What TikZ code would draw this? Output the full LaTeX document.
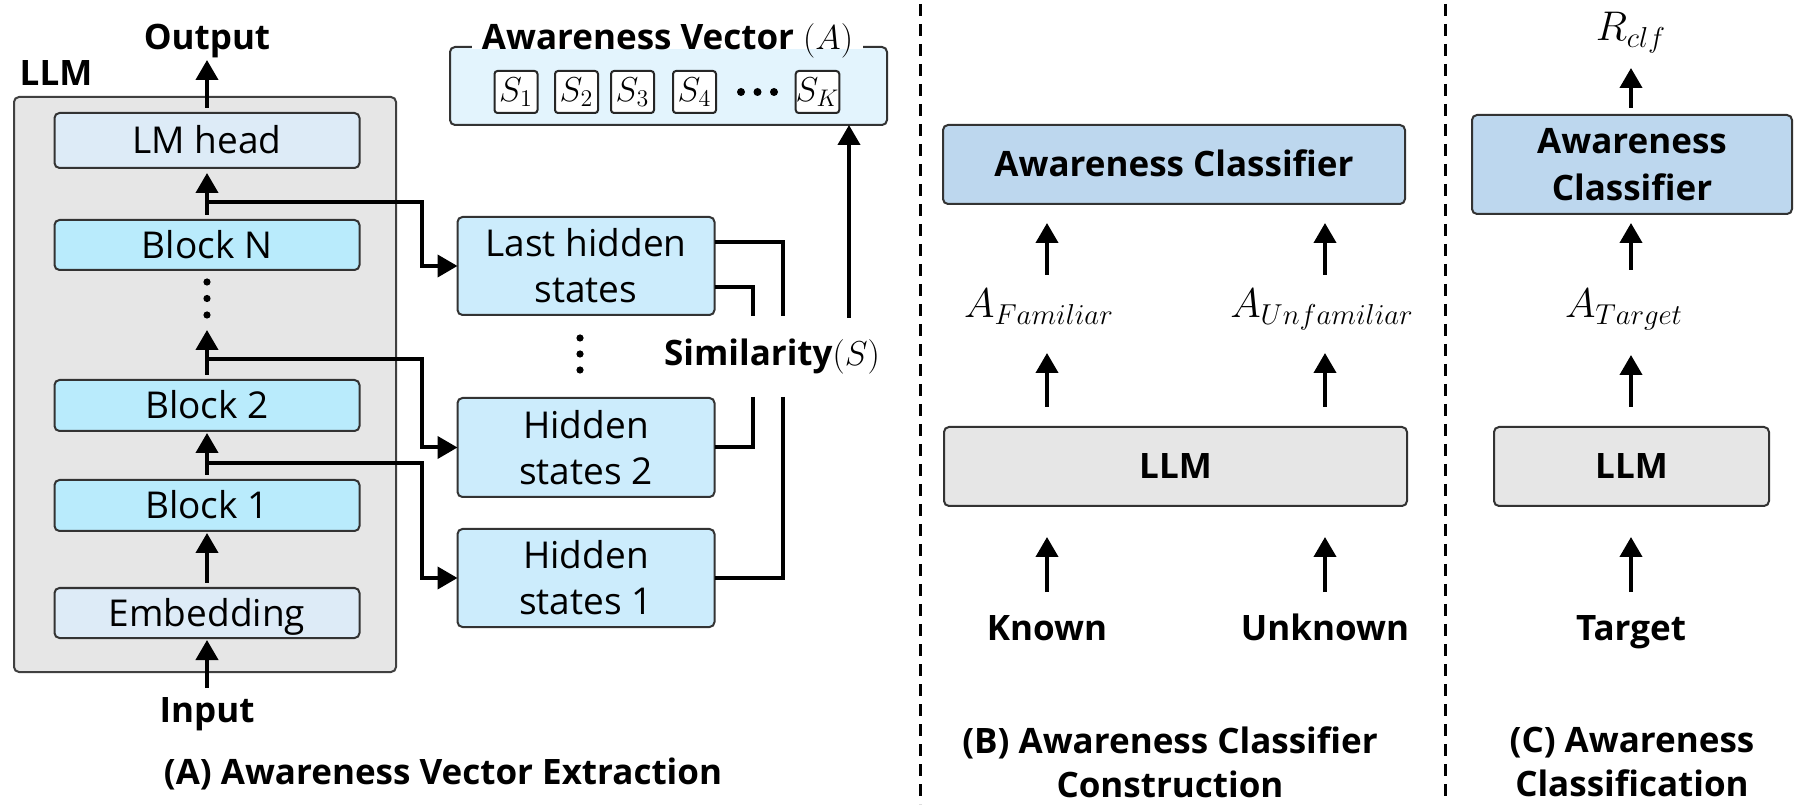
\documentclass[tikz,border=0pt]{standalone}
\usepackage[no-math]{fontspec}
\setmainfont{Open Sans}
\usetikzlibrary{arrows.meta,calc}
\definecolor{llmgray}{HTML}{E6E6E6}
\definecolor{headblue}{HTML}{DDEBF7}
\definecolor{blockcyan}{HTML}{B9EBFC}
\definecolor{hidblue}{HTML}{CCECFC}
\definecolor{avblue}{HTML}{E3F4FD}
\definecolor{clsblue}{HTML}{BDD7EE}
\tikzset{
  every node/.style={inner sep=0pt, outer sep=0pt},
  rtxt/.style={font=\fontsize{18.5}{23}\selectfont},
  btxt/.style={font=\bfseries\fontsize{17.5}{22}\selectfont},
  mtxt/.style={font=\fontsize{20}{22}\selectfont, text height=13pt, text depth=5pt},
  lbl/.style={btxt, text height=12.5pt, text depth=0pt},
  box/.style={draw=black!80, line width=1pt, rounded corners=2.5pt},
  onebox/.style={box, rtxt, text height=13.2pt, text depth=0pt, minimum width=152.5pt},
  mbox/.style={box, rtxt, align=center, minimum width=128.5pt, fill=hidblue},
  arr/.style={line width=2pt, -{Triangle[width=11pt,length=10pt]}},
  conn/.style={line width=2pt},
  sbox/.style={draw=black!85, line width=1pt, fill=white, rounded corners=1.5pt, minimum width=21.5pt, minimum height=21pt, font=\fontsize{17.5}{19}\selectfont},
  dot/.style={circle, fill=black, minimum size=3.6pt},
  sep/.style={line width=1.5pt, dash pattern=on 6pt off 4pt},
}
\begin{document}
\begin{tikzpicture}[x=0.5pt,y=-0.5pt]
\fill[white] (0,0) rectangle (1800,812);
\useasboundingbox (0,0) rectangle (1800,812);

% ---------- Part A ----------
\node[box, draw=black!75, fill=llmgray, minimum width=191pt, minimum height=287.5pt] (llm) at (205,384.5) {};
\node[lbl] (llmlbl) at (56,73.5) {LLM};
\node[lbl] (output) at (207,37.5) {Output};
\node[onebox, fill=headblue, minimum height=27.5pt] (lmhead) at (207,140.5) {LM head};
\node[onebox, fill=blockcyan, minimum height=25pt] (blockN) at (207,245) {Block N};
\node[dot] (da1) at (207,282) {};
\node[dot] (da2) at (207,298.5) {};
\node[dot] (da3) at (207,315) {};
\node[onebox, fill=blockcyan, minimum height=25.5pt] (block2) at (207,405.5) {Block 2};
\node[onebox, fill=blockcyan, minimum height=25.5pt] (block1) at (207,505.5) {Block 1};
\node[onebox, fill=headblue, minimum height=25pt] (embed) at (207,613) {Embedding};
\node[lbl] (input) at (207,709.5) {Input};

\node[mbox, minimum height=49pt] (lhs) at (586,266) {Last hidden\\states};
\node[mbox, minimum height=49.5pt] (hs2) at (586,447.5) {Hidden\\states 2};
\node[mbox, minimum height=49pt] (hs1) at (586,578) {Hidden\\states 1};
\node[dot] (dm1) at (580,338) {};
\node[dot] (dm2) at (580,354) {};
\node[dot] (dm3) at (580,370) {};

\draw[arr, shorten <=2.5pt, shorten >=5pt] (lmhead.north) -- (output.south);
\draw[arr, shorten <=2.5pt, shorten >=2.5pt] (blockN.north) -- (lmhead.south);
\draw[arr, shorten <=2.5pt, shorten >=5.7pt] (block2.north) -- (da3.south);
\draw[arr, shorten <=2.5pt, shorten >=1pt] (block1.north) -- (block2.south);
\draw[arr, shorten <=2.5pt, shorten >=1pt] (embed.north) -- (block1.south);
\draw[arr, shorten <=4.5pt, shorten >=1pt] (input.north) -- (embed.south);

\draw[arr] ($(blockN.north)+(0,-18)$) -| ($(lhs.west)+(-36,0)$) -- (lhs.west);
\draw[arr] ($(block2.north)+(0,-21)$) -| ($(hs2.west)+(-36,0)$) -- (hs2.west);
\draw[arr] ($(block1.north)+(0,-17)$) -| ($(hs1.west)+(-36,0)$) -- (hs1.west);

% Awareness vector
\node[box, fill=avblue, minimum width=218.5pt, minimum height=39pt] (av) at (668.5,86) {};
\draw[white, line width=2pt] ($(av.north west)+(22,0)$) -- ($(av.north west)+(413,0)$);
\node[lbl] (avt) at (667.5,37.5) {Awareness Vector $(A)$};
\node[sbox] (s1) at (516,92) {$S_1$};
\node[sbox] (s2) at (576.5,92) {$S_2$};
\node[sbox] (s3) at (632.5,92) {$S_3$};
\node[sbox] (s4) at (694.5,92) {$S_4$};
\node[dot, minimum size=4pt] (sd1) at (741,92) {};
\node[dot, minimum size=4pt] (sd2) at (757.5,92) {};
\node[dot, minimum size=4pt] (sd3) at (774,92) {};
\node[sbox] (sk) at (817.5,92) {$S_K$};

% Similarity
\node[btxt] (sim) at (772,357) {Similarity$(S)$};
\coordinate (ja) at (783,316);
\coordinate (jb) at (753,316);
\coordinate (jc) at (753,397);
\coordinate (jd) at (783,397);
\coordinate (je) at (849,318);
\draw[conn] ($(lhs.east)+(0,-24)$) -| (ja);
\draw[conn] ($(lhs.east)+(0,21)$) -| (jb);
\draw[conn] (jc) |- (hs2.east);
\draw[conn] (jd) |- (hs1.east);
\draw[arr] (je) -- (je |- av.south);

\node[lbl] (capA) at (443,772) {(A) Awareness Vector Extraction};

% ---------- Part B ----------
\draw[sep] (920,4) -- (920,804);
\node[box, fill=clsblue, lbl, minimum width=231pt, minimum height=39.5pt] (clsB) at (1174,164.5) {Awareness Classifier};
\node[box, fill=llmgray, lbl, minimum width=231.5pt, minimum height=39.5pt] (llmB) at (1175.5,466.5) {LLM};
\node[mtxt] (famB) at (1039,310) {$A_{Familiar}$};
\node[mtxt] (unfB) at (1322,310) {$A_{Unfamiliar}$};
\node[lbl] (known) at (1047,627.5) {Known};
\node[lbl] (unknown) at (1325,627.5) {Unknown};

\draw[arr, shorten <=11.5pt, shorten >=15.5pt] (known.north) -- (known.north |- llmB.south);
\draw[arr, shorten <=10pt, shorten >=12.5pt] (llmB.north -| known.north) -- (known.north |- famB.south);
\draw[arr, shorten <=8.5pt, shorten >=9.5pt] (known.north |- famB.north) -- (known.north |- clsB.south);
\draw[arr, shorten <=11.5pt, shorten >=15.5pt] (unknown.north) -- (unknown.north |- llmB.south);
\draw[arr, shorten <=10pt, shorten >=12.5pt] (llmB.north -| unknown.north) -- (unknown.north |- unfB.south);
\draw[arr, shorten <=8.5pt, shorten >=9.5pt] (unknown.north |- unfB.north) -- (unknown.north |- clsB.south);

\node[btxt, align=center] (capB) at (1170,762) {(B) Awareness Classifier\\Construction};

% ---------- Part C ----------
\draw[sep] (1445,4) -- (1445,796);
\node[box, fill=clsblue, btxt, align=center, font=\bfseries\fontsize{17.5}{23.5}\selectfont, minimum width=160pt, minimum height=49.5pt] (clsC) at (1632,164.5) {Awareness\\Classifier};
\node[box, fill=llmgray, lbl, minimum width=137.5pt, minimum height=39.5pt] (llmC) at (1631.5,466.5) {LLM};
\node[mtxt] (rclf) at (1631,33) {$R_{clf}$};
\node[mtxt] (atarg) at (1624,310) {$A_{Target}$};
\node[lbl] (target) at (1631,627.5) {Target};

\draw[arr, shorten <=11.5pt, shorten >=15.5pt] (target.north) -- (target.north |- llmC.south);
\draw[arr, shorten <=10pt, shorten >=13.5pt] (llmC.north -| target.north) -- (target.north |- atarg.south);
\draw[arr, shorten <=11pt, shorten >=4.5pt] (target.north |- atarg.north) -- (target.north |- clsC.south);
\draw[arr, shorten <=3.5pt, shorten >=8.5pt] (target.north |- clsC.north) -- (target.north |- rclf.south);

\node[btxt, align=center] (capC) at (1632,762) {(C) Awareness\\Classification};
\end{tikzpicture}
\end{document}
